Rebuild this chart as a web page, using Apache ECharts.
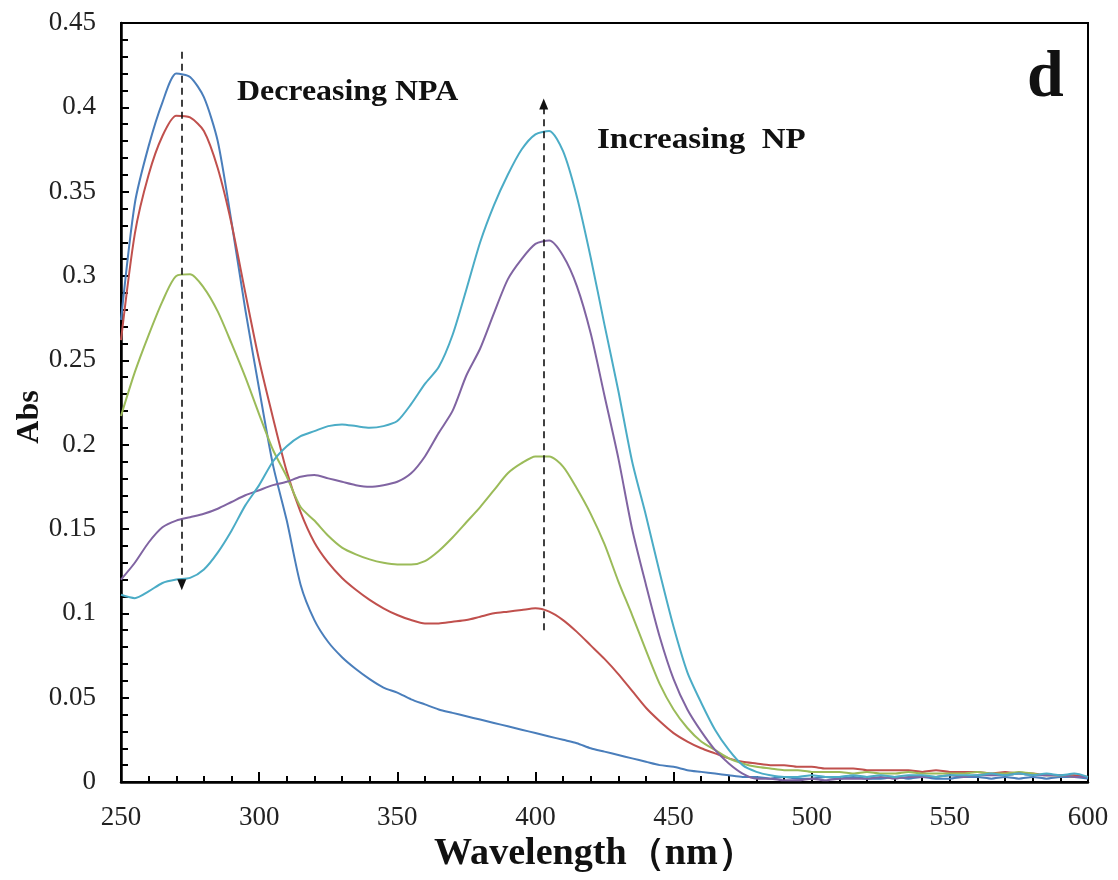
<!DOCTYPE html>
<html>
<head>
<meta charset="utf-8">
<script src="https://cdn.jsdelivr.net/npm/echarts@6/dist/echarts.min.js"></script>
<style>
  html, body { margin: 0; padding: 0; background: #fff; }
  #chart { width: 1118px; height: 880px; }
</style>
</head>
<body>
<div id="chart"></div>
<script>
// Wavelength grid (nm)
const wavelengths = [
  250,255,260,265,270,275,280,285,290,295,300,305,310,315,320,325,330,335,340,345,
  350,355,360,365,370,375,380,385,390,395,400,405,410,415,420,425,430,435,440,445,
  450,455,460,465,470,475,480,485,490,495,500,505,510,515,520,525,530,535,540,545,
  550,555,560,565,570,575,580,585,590,595,600
];

// Absorbance of the five scans
const absBlue = [
  0.274,0.343,0.377,0.403,0.420,0.418,0.406,0.380,0.332,0.280,0.233,0.188,0.155,0.117,0.096,0.083,0.074,0.067,0.061,0.056,
  0.053,0.049,0.046,0.043,0.041,0.039,0.037,0.035,0.033,0.031,0.029,0.027,0.025,0.023,0.020,0.018,0.016,0.014,0.012,0.010,
  0.009,0.007,0.006,0.005,0.004,0.003,0.003,0.002,0.003,0.002,0.002,0.003,0.002,0.003,0.002,0.002,0.003,0.002,0.003,0.002,
  0.002,0.003,0.003,0.002,0.003,0.002,0.003,0.002,0.003,0.003,0.002
];
const absRed = [
  0.262,0.325,0.360,0.383,0.395,0.394,0.386,0.364,0.331,0.290,0.250,0.216,0.184,0.160,0.142,0.130,0.121,0.114,0.108,0.103,
  0.099,0.096,0.094,0.094,0.095,0.096,0.098,0.100,0.101,0.102,0.103,0.101,0.096,0.089,0.081,0.073,0.064,0.054,0.044,0.036,
  0.029,0.024,0.020,0.017,0.014,0.012,0.011,0.010,0.010,0.009,0.009,0.008,0.008,0.008,0.007,0.007,0.007,0.007,0.006,0.007,
  0.006,0.006,0.006,0.005,0.006,0.005,0.005,0.004,0.004,0.004,0.003
];
const absGreen = [
  0.217,0.243,0.265,0.285,0.300,0.301,0.293,0.279,0.260,0.240,0.218,0.197,0.181,0.163,0.155,0.146,0.139,0.135,0.132,0.130,
  0.129,0.129,0.131,0.137,0.145,0.154,0.163,0.173,0.183,0.189,0.193,0.193,0.187,0.174,0.159,0.141,0.119,0.099,0.078,0.058,
  0.043,0.032,0.024,0.019,0.014,0.011,0.009,0.008,0.007,0.007,0.006,0.006,0.006,0.005,0.006,0.005,0.005,0.006,0.005,0.005,
  0.005,0.005,0.006,0.005,0.005,0.006,0.005,0.004,0.004,0.003,0.003
];
const absPurple = [
  0.120,0.130,0.142,0.151,0.155,0.157,0.159,0.162,0.166,0.170,0.173,0.176,0.178,0.181,0.182,0.180,0.178,0.176,0.175,0.176,
  0.178,0.183,0.193,0.207,0.220,0.241,0.257,0.278,0.298,0.310,0.319,0.321,0.312,0.294,0.266,0.229,0.192,0.150,0.117,0.086,
  0.061,0.043,0.030,0.019,0.011,0.005,0.002,0.002,0.001,0.001,0.002,0.001,0.002,0.002,0.002,0.003,0.002,0.003,0.003,0.003,
  0.004,0.003,0.004,0.004,0.004,0.005,0.004,0.004,0.004,0.003,0.003
];
const absCyan = [
  0.111,0.109,0.113,0.118,0.120,0.121,0.126,0.136,0.149,0.164,0.176,0.190,0.199,0.205,0.208,0.211,0.212,0.211,0.210,0.211,
  0.214,0.224,0.236,0.246,0.265,0.292,0.320,0.342,0.360,0.375,0.384,0.386,0.374,0.347,0.311,0.271,0.232,0.190,0.158,0.124,
  0.092,0.065,0.047,0.031,0.019,0.010,0.006,0.004,0.003,0.003,0.004,0.003,0.003,0.004,0.003,0.004,0.003,0.004,0.004,0.003,
  0.004,0.004,0.004,0.005,0.004,0.005,0.004,0.005,0.004,0.005,0.003
];

// Guide arrows: [wavelength, from Abs, to Abs]
const arrowNPA = [272, 0.433, 0.117];
const arrowNP = [403, 0.090, 0.402];

const xTicks = { min: 250, max: 600, step: 50 };
const yTicks = { min: 0, max: 0.45, step: 0.05 };

const seriesDefs = [
  { name: 'scan 1', color: '#4a7ebb', values: absBlue },
  { name: 'scan 2', color: '#c0504d', values: absRed },
  { name: 'scan 3', color: '#9bbb59', values: absGreen },
  { name: 'scan 4', color: '#8064a2', values: absPurple },
  { name: 'scan 5', color: '#4bacc6', values: absCyan }
];

const serif = '"Liberation Serif", "DejaVu Serif", serif';

const series = seriesDefs.map(s => ({
  name: s.name,
  type: 'line',
  data: wavelengths.map((w, i) => [w, s.values[i]]),
  showSymbol: false,
  smooth: 0.25,
  lineStyle: { color: s.color, width: 2 },
  itemStyle: { color: s.color },
  z: 3
}));

function arrowLine(a) {
  return [{ coord: [a[0], a[1]] }, { coord: [a[0], a[2]] }];
}

series.push({
  name: 'guides',
  type: 'line',
  data: [],
  z: 5,
  markLine: {
    silent: true,
    symbol: ['none', 'triangle'],
    symbolSize: [9, 11],
    label: { show: false },
    lineStyle: { color: '#111', type: [7, 5], width: 1.6 },
    data: [arrowLine(arrowNPA), arrowLine(arrowNP)]
  }
});

const chart = echarts.init(document.getElementById('chart'));
chart.setOption({
  animation: false,
  backgroundColor: '#fff',
  grid: {
    left: 121, right: 30, top: 23, bottom: 98,
    outerBoundsMode: 'none',
    containLabel: false,
    show: true, borderColor: '#000', borderWidth: 2
  },
  xAxis: {
    type: 'value',
    min: xTicks.min, max: xTicks.max, interval: xTicks.step,
    axisLine: { show: true, onZero: false, lineStyle: { color: '#000', width: 2.5 } },
    axisTick: { show: true, inside: true, length: 10, lineStyle: { color: '#000', width: 2 } },
    minorTick: { show: true, splitNumber: 5, length: 6, lineStyle: { color: '#000', width: 2 } },
    splitLine: { show: false },
    axisLabel: { color: '#222', fontFamily: serif, fontSize: 27, margin: 22 }
  },
  yAxis: {
    type: 'value',
    min: yTicks.min, max: yTicks.max, interval: yTicks.step,
    axisLine: { show: true, onZero: false, lineStyle: { color: '#000', width: 2.5 } },
    axisTick: { show: true, inside: true, length: 8, lineStyle: { color: '#000', width: 2 } },
    minorTick: { show: true, splitNumber: 5, length: 7, lineStyle: { color: '#000', width: 2 } },
    splitLine: { show: false },
    axisLabel: { color: '#222', fontFamily: serif, fontSize: 27, margin: 25 }
  },
  graphic: [
    // axis titles
    { type: 'text', x: 595, y: 854, scaleX: 1.03,
      style: { text: 'Wavelength（nm）', font: 'bold 37px ' + serif, fill: '#111',
               align: 'center', verticalAlign: 'middle' } },
    { type: 'text', x: 30, y: 417, rotation: Math.PI / 2,
      style: { text: 'Abs', font: 'bold 32px ' + serif, fill: '#111',
               align: 'center', verticalAlign: 'middle' } },
    // annotations
    { type: 'text', x: 237, y: 78, scaleX: 1.1,
      style: { text: 'Decreasing NPA', font: 'bold 29px ' + serif, fill: '#111' } },
    { type: 'text', x: 597, y: 126, scaleX: 1.14,
      style: { text: 'Increasing  NP', font: 'bold 29px ' + serif, fill: '#111' } },
    { type: 'text', x: 1027, y: 46,
      style: { text: 'd', font: 'bold 66px ' + serif, fill: '#111' } }
  ],
  series: series
});
</script>
</body>
</html>
